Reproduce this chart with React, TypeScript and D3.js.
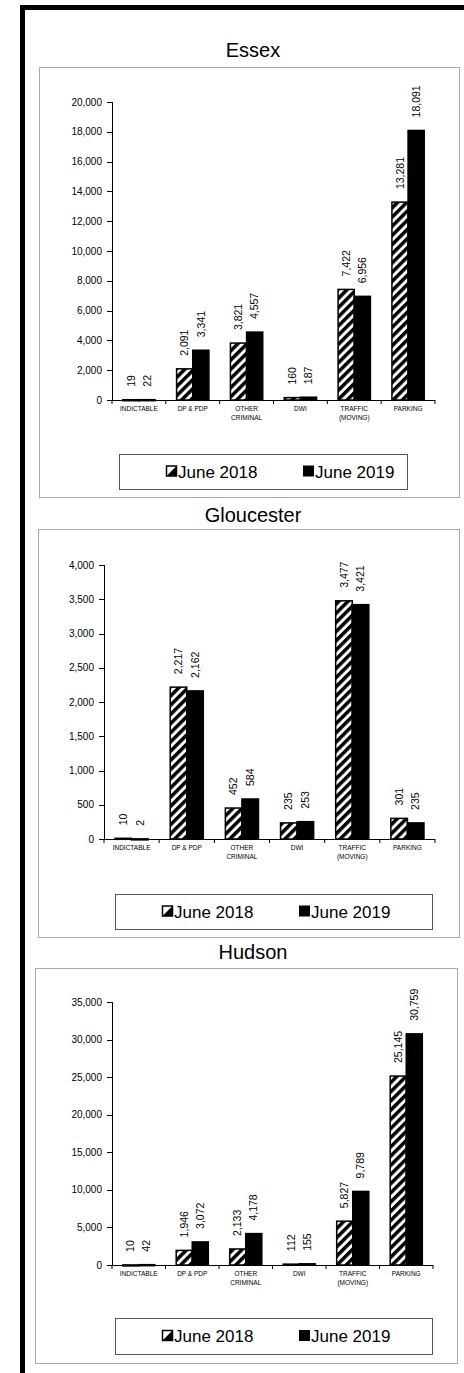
import React from 'react';
import * as d3 from 'd3';

const categories = ['INDICTABLE', 'DP & PDP', 'OTHER\nCRIMINAL', 'DWI', 'TRAFFIC\n(MOVING)', 'PARKING'];
const seriesNames = ['June 2018', 'June 2019'];

const essex2018 = [19, 2091, 3821, 160, 7422, 13281];
const essex2019 = [22, 3341, 4557, 187, 6956, 18091];
const essexTicks = [0, 2000, 4000, 6000, 8000, 10000, 12000, 14000, 16000, 18000, 20000];

const gloucester2018 = [10, 2217, 452, 235, 3477, 301];
const gloucester2019 = [2, 2162, 584, 253, 3421, 235];
const gloucesterTicks = [0, 500, 1000, 1500, 2000, 2500, 3000, 3500, 4000];

const hudson2018 = [10, 1946, 2133, 112, 5827, 25145];
const hudson2019 = [42, 3072, 4178, 155, 9789, 30759];
const hudsonTicks = [0, 5000, 10000, 15000, 20000, 25000, 30000, 35000];

const FONT = '"Liberation Sans", Arial, sans-serif';
const fmt = d3.format(',');

// layout of each panel (pixels)
const panels = [
  {
    title: 'Essex', a: essex2018, b: essex2019, ticks: essexTicks,
    box: [39, 67, 420, 430], titleY: 57,
    plot: { left: 112, right: 435, bottom: 400, top: 102 },
    legend: [119, 454, 288, 35], items: [166, 303],
  },
  {
    title: 'Gloucester', a: gloucester2018, b: gloucester2019, ticks: gloucesterTicks,
    box: [38, 529, 421, 408], titleY: 522,
    plot: { left: 104, right: 435, bottom: 839, top: 565 },
    legend: [115, 894, 317, 35], items: [162, 299],
  },
  {
    title: 'Hudson', a: hudson2018, b: hudson2019, ticks: hudsonTicks,
    box: [35, 968, 422, 395], titleY: 959,
    plot: { left: 112, right: 433, bottom: 1265, top: 1002 },
    legend: [115, 1318, 317, 36], items: [162, 299],
  },
];

function Panel({ p }: { p: any }) {
  const { plot } = p;
  const x = d3.scaleBand().domain(categories).range([plot.left, plot.right]).paddingInner(0.4).paddingOuter(0.2);
  const y = d3.scaleLinear().domain([0, p.ticks[p.ticks.length - 1]]).range([plot.bottom, plot.top]);
  const x1 = d3.scaleBand().domain(seriesNames).range([0, x.bandwidth()]);
  const bounds = d3.range(categories.length + 1).map(i => plot.left + i * x.step());
  const [bx, by, bw, bh] = p.box;
  const [lx, ly, lw, lh] = p.legend;
  const cy = ly + lh / 2;

  return (
    <g>
      <text x={253} y={p.titleY} textAnchor="middle" fontSize={20} fontWeight="normal" fontFamily={FONT}>{p.title}</text>
      <rect x={bx + 0.5} y={by + 0.5} width={bw} height={bh} fill="white" stroke="#aaa" />

      {/* y axis */}
      <line x1={plot.left + 0.5} x2={plot.left + 0.5} y1={y(p.ticks[p.ticks.length - 1])} y2={plot.bottom} stroke="#000" />
      {p.ticks.map((t: number) => (
        <g key={t}>
          <line x1={plot.left - 5} x2={plot.left} y1={Math.round(y(t)) + 0.5} y2={Math.round(y(t)) + 0.5} stroke="#000" />
          <text x={plot.left - 10} y={y(t)} dy="0.35em" textAnchor="end" fontSize={10} fontFamily={FONT}>{fmt(t)}</text>
        </g>
      ))}

      {/* bars */}
      {categories.map((c, i) => {
        const vals = [p.a[i], p.b[i]];
        return (
          <g key={c}>
            {vals.map((v, j) => {
              const left = (x(c) as number) + (x1(seriesNames[j]) as number);
              const w = x1.bandwidth();
              const top = y(v);
              return (
                <g key={j}>
                  <rect x={left} y={top} width={w} height={Math.max(plot.bottom - top, 1)}
                    fill={j === 0 ? 'url(#hatch)' : '#000'} stroke="#000" strokeWidth={1.5} />
                  <text transform={`translate(${left + w / 2},${top - 13}) rotate(-90)`} dy="0.35em"
                    fontSize={10.5} fontFamily={FONT}>{fmt(v)}</text>
                </g>
              );
            })}
          </g>
        );
      })}

      {/* x axis */}
      <line x1={plot.left} x2={plot.right} y1={plot.bottom + 0.5} y2={plot.bottom + 0.5} stroke="#000" />
      {bounds.map((b, i) => (
        <line key={i} x1={b} x2={b} y1={plot.bottom} y2={plot.bottom + 4} stroke="#000" />
      ))}
      {categories.map(c => (
        <text key={c} x={(x(c) as number) + x.bandwidth() / 2} y={plot.bottom + 11} textAnchor="middle"
          fontSize={6.5} fontFamily={FONT}>
          {c.split('\n').map((s, k) => (
            <tspan key={k} x={(x(c) as number) + x.bandwidth() / 2} dy={k === 0 ? 0 : 9}>{s}</tspan>
          ))}
        </text>
      ))}

      {/* legend */}
      <rect x={lx + 0.5} y={ly + 0.5} width={lw} height={lh} fill="white" stroke="#555" />
      {seriesNames.map((s, j) => {
        const mx = p.items[j];
        return (
          <g key={s}>
            {j === 0 ? (
              <g>
                <rect x={mx + 0.5} y={cy - 5.5} width={10} height={10} fill="white" stroke="#000" strokeWidth={1.5} />
                <path d={`M${mx + 10.5},${cy - 5.5} L${mx + 10.5},${cy + 4.5} L${mx + 0.5},${cy + 4.5} Z`} fill="#000" />
              </g>
            ) : (
              <rect x={mx} y={cy - 6} width={11} height={11} fill="#000" />
            )}
            <text x={mx + 12} y={cy + 6} fontSize={17} fontFamily={FONT}>{s}</text>
          </g>
        );
      })}
    </g>
  );
}

export default function App() {
  return (
    <svg width={464} height={1373} style={{ position: 'absolute', left: 0, top: 0, background: 'white' }}>
      <defs>
        <pattern id="hatch" patternUnits="userSpaceOnUse" width={6.5} height={6.5} patternTransform="rotate(45)">
          <rect width={6.5} height={6.5} fill="white" />
          <rect width={3.5} height={6.5} fill="#000" />
        </pattern>
      </defs>
      <rect x={0} y={0} width={464} height={1373} fill="white" />
      <rect x={20} y={5} width={444} height={5} fill="#000" />
      <rect x={20} y={5} width={5} height={1368} fill="#000" />
      {panels.map(p => <Panel key={p.title} p={p} />)}
    </svg>
  );
}
